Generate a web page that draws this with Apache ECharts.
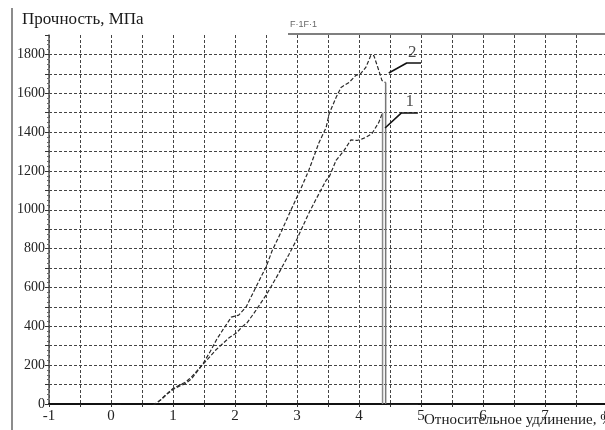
<!DOCTYPE html>
<html><head><meta charset="utf-8">
<script src="https://cdn.jsdelivr.net/npm/echarts/dist/echarts.min.js"></script>
<style>html,body{margin:0;padding:0;background:#fff}#c{width:605px;height:430px}</style>
</head><body><div id="c"></div>
<script>
// ---- data ----
var yTitle = "Прочность, МПа";
var xTitle = "Относительное удлинение, %";
var topNote = "F·1F·1";
var xTicks = [-1, 0, 1, 2, 3, 4, 5, 6, 7, 8];
var yTicks = [0, 200, 400, 600, 800, 1000, 1200, 1400, 1600, 1800];

var curve1 = [[0,-4],[0.2,-8],[0.4,-12],[0.6,-10],[0.7,-3],[0.8,20],[0.9,50],[1.0,75],[1.1,92],[1.2,105],[1.3,130],[1.47,200],[1.6,245],[1.69,278],[1.8,310],[1.9,340],[2.02,365],[2.11,396],[2.2,420],[2.34,483],[2.52,570],[2.7,670],[2.87,770],[3.0,850],[3.19,982],[3.3,1050],[3.47,1152],[3.52,1170],[3.63,1254],[3.76,1306],[3.87,1360],[3.97,1357],[4.05,1365],[4.11,1373],[4.21,1393],[4.32,1450],[4.38,1500]];
var curve2 = [[0,-4],[0.2,-8],[0.4,-12],[0.6,-10],[0.7,-3],[0.8,22],[0.9,52],[1.0,80],[1.1,97],[1.2,112],[1.3,140],[1.47,200],[1.6,270],[1.7,330],[1.8,380],[1.94,447],[2.06,458],[2.18,500],[2.35,610],[2.5,705],[2.6,790],[2.75,890],[2.9,997],[3.05,1100],[3.19,1203],[3.35,1342],[3.47,1424],[3.52,1496],[3.63,1578],[3.71,1630],[3.84,1656],[3.95,1692],[4.03,1702],[4.11,1733],[4.19,1794],[4.24,1794],[4.32,1717],[4.37,1666],[4.43,1655]];
var drop1 = [[4.38,1500],[4.38,0]];
var drop2 = [[4.43,1655],[4.43,0]];
var tail = [[4.45,-4],[4.7,-6],[4.95,-5]];
var leader1 = [[4.42,1421],[4.68,1498],[4.95,1498]];
var leader2 = [[4.48,1704],[4.77,1756],[5.0,1756]];
var curveLabels = [[4.82,1555,"1"],[4.86,1810,"2"]];

var serif = "'Liberation Serif','DejaVu Serif',serif";
var chart = echarts.init(document.getElementById('c'), null, {renderer:'canvas'});
var grid = {left:49, top:35, width:558, height:369, outerBoundsMode:'none', containLabel:false};
var dashStyle = {color:'#444', type:[3,2], width:1};

chart.setOption({
  animation:false,
  backgroundColor:'#fff',
  grid: grid,
  xAxis: {
    type:'value', min:xTicks[0], max:xTicks[xTicks.length-1], interval:0.5,
    axisLine:{show:true, onZero:false, lineStyle:{color:'#111', width:2}},
    axisTick:{show:true, length:3, lineStyle:{color:'#333'}},
    axisLabel:{margin:5, color:'#222', fontFamily:serif, fontSize:15,
      formatter:function(v){return xTicks.indexOf(v)>=0 ? String(v) : '';}},
    splitLine:{show:true, showMaxLine:false, lineStyle:dashStyle}
  },
  yAxis: {
    type:'value', min:0, max:1900, interval:100,
    axisLine:{show:true, onZero:false, lineStyle:{color:'#555', width:1.5}},
    axisTick:{show:true, length:4, lineStyle:{color:'#333'}},
    minorTick:{show:true, splitNumber:4, length:2, lineStyle:{color:'#666'}},
    axisLabel:{margin:4, color:'#222', fontFamily:serif, fontSize:14,
      formatter:function(v){return yTicks.indexOf(v)>=0 ? String(v) : '';}},
    splitLine:{show:true, showMaxLine:false, lineStyle:dashStyle}
  },
  graphic:[
    {type:'line', shape:{x1:12,y1:8,x2:12,y2:430}, style:{stroke:'#666', lineWidth:1.5}},
    {type:'line', shape:{x1:288,y1:34,x2:605,y2:34}, style:{stroke:'#555', lineWidth:1.5}},
    {type:'text', left:22, top:11, style:{text:yTitle, font:'17px '+serif, fill:'#1a1a1a'}},
    {type:'text', left:290, top:20, style:{text:topNote, font:'9px sans-serif', fill:'#666'}},
    {type:'text', left:424, top:413, style:{text:xTitle, font:'15px '+serif, fill:'#1a1a1a'}}
  ],
  series:[
    {type:'line', data:curve1, showSymbol:false, lineStyle:{color:'#2a2a2a', width:1.2, type:[4,2]}, z:3},
    {type:'line', data:curve2, showSymbol:false, lineStyle:{color:'#2a2a2a', width:1.2, type:[4,2]}, z:3},
    {type:'line', data:drop1, showSymbol:false, lineStyle:{color:'#888', width:1.5}, z:3},
    {type:'line', data:drop2, showSymbol:false, lineStyle:{color:'#777', width:1.5}, z:3},
    {type:'line', data:tail, showSymbol:false, lineStyle:{color:'#222', width:2}, z:3},
    {type:'line', data:leader1, showSymbol:false, lineStyle:{color:'#111', width:1.6}, z:4},
    {type:'line', data:leader2, showSymbol:false, lineStyle:{color:'#111', width:1.6}, z:4},
    {type:'scatter', data:curveLabels, symbolSize:0, z:5,
      label:{show:true, position:'inside', formatter:function(p){return p.data[2];},
        fontFamily:serif, fontSize:17, color:'#1a1a1a'}}
  ]
});
</script></body></html>
